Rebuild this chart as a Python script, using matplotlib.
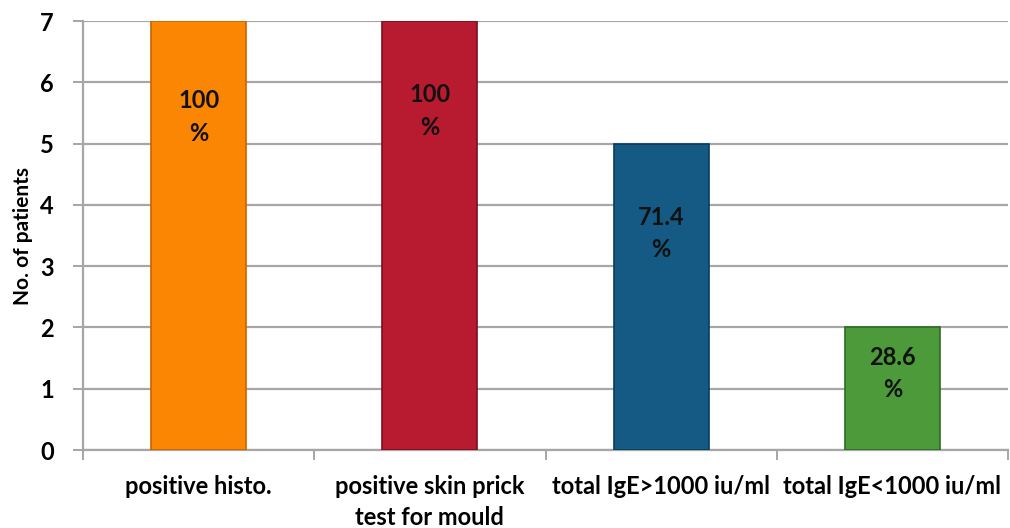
import matplotlib.pyplot as plt
import numpy as np

plt.rcParams['font.family'] = ['Lato', 'DejaVu Sans']

# Data
categories = ['positive histo.', 'positive skin prick\ntest for mould',
              'total IgE>1000 iu/ml', 'total IgE<1000 iu/ml']
patients = [7, 7, 5, 2]
percent_labels = ['100\n%', '100\n%', '71.4\n%', '28.6\n%']
label_drop_px = [96, 90, 90, 46]  # how far below the bar top the label sits
bar_colors = ['#fb8603', '#b81a30', '#145a85', '#4c9a3a']
edge_colors = ['#c96400', '#7c0f1f', '#0b3c5c', '#2f6a24']

fig = plt.figure(figsize=(10.1, 5.28), dpi=100)
ax = fig.add_axes([0.0822, 0.1477, 0.9158, 0.8123])

x = np.arange(len(categories))
ax.bar(x, patients, width=0.41, color=bar_colors, edgecolor=edge_colors,
       linewidth=1.2, zorder=3)

for xi, h, lab, drop in zip(x, patients, percent_labels, label_drop_px):
    ax.annotate(lab, (xi, h), xytext=(0, -drop * 0.72), textcoords='offset points',
                ha='center', va='center', fontsize=17, fontweight='bold',
                linespacing=1.5, color='#111111', zorder=4)

ax.set_xlim(-0.5, len(categories) - 0.5)
ax.set_ylim(0, 7)
ax.set_yticks(range(0, 8))
ax.yaxis.grid(True, color='#a6a6a6', linewidth=1.6, zorder=0)

# ticks on the category boundaries
ax.set_xticks(np.arange(-0.5, len(categories)), minor=False)
ax.set_xticklabels([])
ax.set_xticks(x, minor=True)
ax.set_xticklabels(categories, minor=True, fontsize=17, fontweight='bold',
                   linespacing=1.4)
ax.tick_params(axis='x', which='minor', length=0, pad=18)
ax.tick_params(axis='x', which='major', length=7, width=1.4, color='#a6a6a6')
ax.tick_params(axis='y', length=7, width=1.4, color='#a6a6a6', labelsize=17, pad=14)
for t in ax.get_yticklabels():
    t.set_fontweight('bold')

ax.set_ylabel('No. of patients', fontsize=15, fontweight='bold', labelpad=5)

for side in ['top', 'right']:
    ax.spines[side].set_visible(False)
for side in ['left', 'bottom']:
    ax.spines[side].set_color('#a6a6a6')
    ax.spines[side].set_linewidth(1.6)

plt.savefig('out.png', dpi=100)
